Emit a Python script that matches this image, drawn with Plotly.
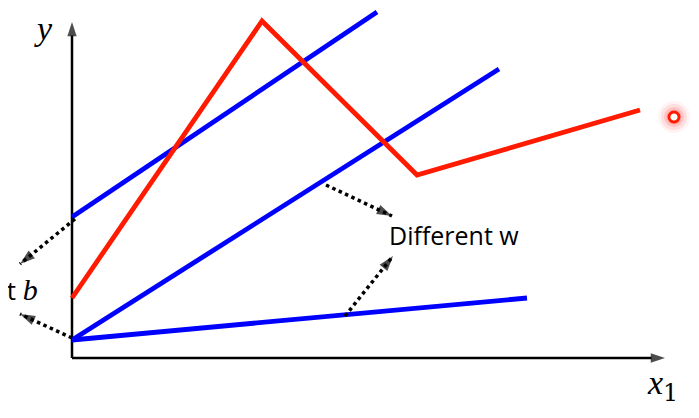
import plotly.graph_objects as go

# Data (chart units, origin at axes corner)
red_x = [0, 190, 345, 568]
red_y = [60, 337, 183, 248]

blue1_x = [0, 305]
blue1_y = [141, 346]
blue2_x = [0, 427]
blue2_y = [18, 289]
blue3_x = [0, 455]
blue3_y = [18, 60]

axis_x_end = 593
axis_y_end = 336

dot_x = [602]
dot_y = [241]

arrows = [
    ([3, -52], [139, 94]),
    ([0, -52], [20, 44]),
    ([254, 320], [173, 142]),
    ([273, 321], [42, 102]),
]

label_w = "Different w"
label_b = "Different "

fig = go.Figure()

# axes
fig.add_trace(go.Scatter(x=[0, 0], y=[0, axis_y_end], mode="lines+markers",
                         line=dict(color="black", width=2.5),
                         marker=dict(symbol=["circle", "arrow"], size=[0, 15], color="black",
                                     angleref="previous", line=dict(width=0))))
fig.add_trace(go.Scatter(x=[0, axis_x_end], y=[0, 0], mode="lines+markers",
                         line=dict(color="black", width=2.5),
                         marker=dict(symbol=["circle", "arrow"], size=[0, 15], color="black",
                                     angleref="previous", line=dict(width=0))))

# blue lines
for bx, by in [(blue1_x, blue1_y), (blue2_x, blue2_y), (blue3_x, blue3_y)]:
    fig.add_trace(go.Scatter(x=bx, y=by, mode="lines",
                             line=dict(color="#0000ff", width=4.8)))

# red polyline
fig.add_trace(go.Scatter(x=red_x, y=red_y, mode="lines",
                         line=dict(color="#ff1a00", width=4.8)))

# dotted arrows
for ax_, ay_ in arrows:
    fig.add_trace(go.Scatter(x=ax_, y=ay_, mode="lines",
                             line=dict(color="black", width=3.5, dash="dot")))
    fig.add_trace(go.Scatter(x=ax_, y=ay_, mode="markers",
                             marker=dict(symbol=["circle", "arrow"], size=[0, 16], color="black",
                                         angleref="previous", line=dict(width=0))))

# red glowing dot
for s, o in [(32, 0.06), (26, 0.1), (20, 0.15), (15, 0.2)]:
    fig.add_trace(go.Scatter(x=dot_x, y=dot_y, mode="markers",
                             marker=dict(size=s, color="#ff3030", opacity=o, line=dict(width=0))))
fig.add_trace(go.Scatter(x=dot_x, y=dot_y, mode="markers",
                         marker=dict(symbol="circle", size=10, color="white",
                                     line=dict(color="#ff1a00", width=2.8))))

# labels
fig.add_annotation(x=315, y=123, text=label_w, showarrow=False, xanchor="left", yanchor="middle",
                   font=dict(family="Open Sans", size=25, color="black"))
fig.add_annotation(x=-32, y=68,
                   text=label_b + "<span style='font-family:Liberation Serif;font-style:italic;font-size:30px'>b</span>",
                   showarrow=False, xanchor="right", yanchor="middle",
                   font=dict(family="Open Sans", size=26, color="black"))
fig.add_annotation(x=-29, y=330, text="<i>y</i>", showarrow=False, xanchor="center", yanchor="middle",
                   font=dict(family="Liberation Serif", size=34, color="black"))
fig.add_annotation(x=590, y=-27,
                   text="<i>x</i><span style='font-family:DejaVu Serif'><sub>1</sub></span>",
                   showarrow=False, xanchor="center", yanchor="middle",
                   font=dict(family="Liberation Serif", size=34, color="black"))

fig.update_layout(
    width=691, height=410, margin=dict(l=0, r=0, t=0, b=0),
    paper_bgcolor="white", plot_bgcolor="white", showlegend=False,
    xaxis=dict(range=[-64, 627], visible=False, fixedrange=True),
    yaxis=dict(range=[-60, 350], visible=False, fixedrange=True),
)

fig.write_html("out.html")
